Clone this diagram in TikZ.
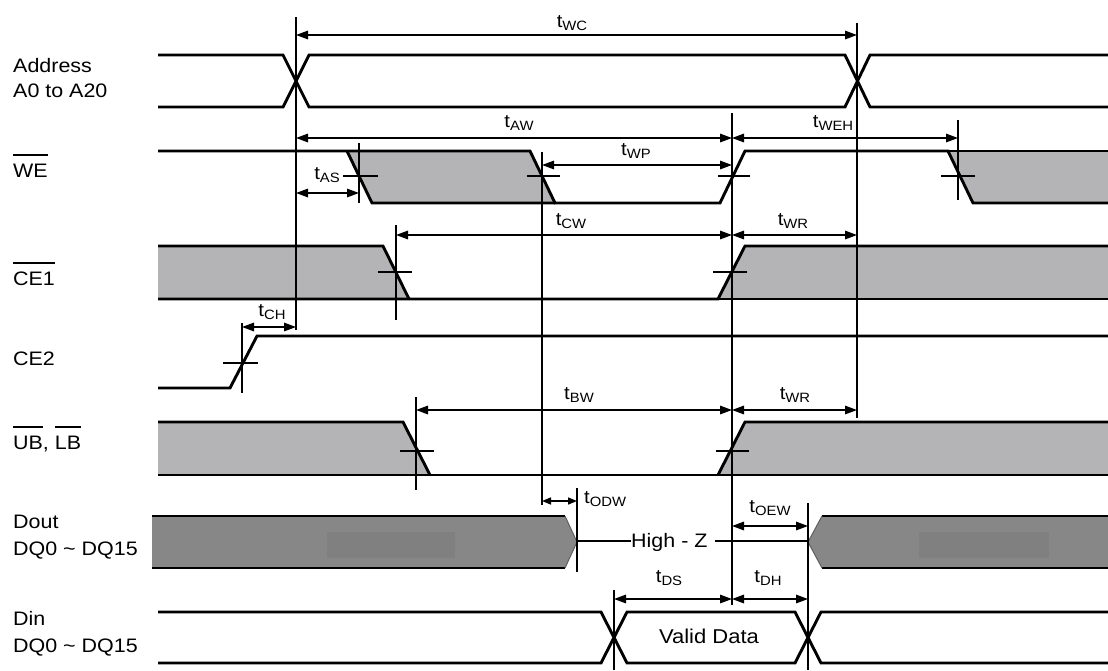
\documentclass[tikz,border=0pt]{standalone}
\usepackage{fontspec}
\setmainfont[FakeStretch=1.1]{Liberation Sans}
\usetikzlibrary{arrows.meta}
\definecolor{lg}{RGB}{180,179,182}
\definecolor{dg}{RGB}{136,135,136}
\definecolor{dgin}{RGB}{128,128,128}
\newcommand\myovl[1]{\setbox0\hbox{#1}\rlap{\rule[21.5pt]{\wd0}{2pt}}\box0}
\newcommand\tsub[1]{t\raisebox{-3.5pt}{\fontsize{13.5}{15}\selectfont #1}}
\begin{document}
\begin{tikzpicture}[x=1pt,y=-1pt,
  sig/.style={line width=2.9pt, line join=miter},
  thin sig/.style={line width=1.6pt},
  refl/.style={line width=1.3pt},
  bigref/.style={line width=2.3pt},
  tick/.style={line width=1.5pt},
  dim/.style={line width=1.5pt,{Triangle[length=12pt,width=8.5pt]}-{Triangle[length=12pt,width=8.5pt]}},
  smalldim/.style={line width=1.5pt,{Triangle[length=9pt,width=7pt]}-{Triangle[length=9pt,width=7pt]}},
  lab/.style={font=\fontsize{19.5}{22}\selectfont, anchor=base west, inner sep=0pt},
  tl/.style={font=\fontsize{18.5}{20}\selectfont, anchor=base, inner sep=0pt}]
\useasboundingbox (0,0) rectangle (1108,670);

% ---------- left labels ----------
\node[lab] (lAddr) at (13,72) {Address};
\node[lab] (lA) at (13,97) {A0 to A20};
\node[lab] (lWE) at (13,177) {\myovl{WE}};
\node[lab] (lCE1) at (13,285) {\myovl{CE1}};
\node[lab] (lCE2) at (13,365) {CE2};
\node[lab] (lUB) at (13,449) {\myovl{UB}, \myovl{LB}};
\node[lab] (lDout) at (13,528) {Dout};
\node[lab] (lDQa) at (13,555) {DQ0 \textasciitilde{} DQ15};
\node[lab] (lDin) at (13,625) {Din};
\node[lab] (lDQb) at (13,652) {DQ0 \textasciitilde{} DQ15};

% ---------- fills ----------
\fill[lg] (347,151) -- (530,151) -- (555,203) -- (372,203) -- cycle;
\fill[lg] (948,151) -- (1108,151) -- (1108,203) -- (973,203) -- cycle;
\fill[lg] (158,246) -- (383,246) -- (409,299) -- (158,299) -- cycle;
\fill[lg] (718,299) -- (745,246) -- (1108,246) -- (1108,299) -- cycle;
\fill[lg] (158,422) -- (403,422) -- (430,475) -- (158,475) -- cycle;
\fill[lg] (718,475) -- (745,422) -- (1108,422) -- (1108,475) -- cycle;
\fill[dg] (152,516) -- (565,516) -- (577,542) -- (565,568) -- (152,568) -- cycle;
\fill[dg] (808,542) -- (822,516) -- (1108,516) -- (1108,568) -- (822,568) -- cycle;
\fill[dgin] (327,532) rectangle (455,558);
\fill[dgin] (919,532) rectangle (1049,558);

% ---------- Address ----------
\draw[sig] (158,55) -- (283,55) -- (309,107) -- (845,107) -- (870,55) -- (1108,55);
\draw[sig] (158,107) -- (283,107) -- (309,55) -- (845,55) -- (870,107) -- (1108,107);

% ---------- WE ----------
\draw[sig] (158,151) -- (530,151) -- (555,203) -- (720,203) -- (745,151) -- (948,151) -- (973,203) -- (1108,203);
\draw[sig] (347,151) -- (372,203) -- (555,203);
\draw[sig] (948,151) -- (1108,151);

% ---------- CE1 ----------
\draw[sig] (158,246) -- (383,246) -- (409,299);
\draw[sig] (158,299) -- (718,299) -- (745,246) -- (1108,246);
\draw[sig] (718,299) -- (1108,299);

% ---------- CE2 ----------
\draw[sig] (158,388) -- (230,388) -- (257,336) -- (1108,336);

% ---------- UB, LB ----------
\draw[sig] (158,422) -- (403,422) -- (430,475);
\draw[sig] (158,475) -- (430,475);
\draw[thin sig] (430,475) -- (718,475);
\draw[sig] (718,475) -- (745,422) -- (1108,422);
\draw[sig] (718,475) -- (1108,475);

% ---------- Dout ----------
\draw[sig] (152,516) -- (565,516);
\draw[sig] (152,568) -- (565,568);
\draw[line width=1pt, dg!70!black] (565,516) -- (577,542) -- (565,568);
\draw[sig] (822,516) -- (1108,516);
\draw[sig] (822,568) -- (1108,568);
\draw[line width=1pt, dg!70!black] (822,516) -- (808,542) -- (822,568);
\node[font=\fontsize{19.5}{22}\selectfont, anchor=base west, inner sep=0pt] (hz) at (631,547) {High - Z};
\draw[line width=2pt] (577,541) -- (hz.west |- 0,541);
\draw[line width=2pt] (715,541) -- (808,541);

% ---------- Din ----------
\draw[sig] (158,612) -- (601,612) -- (627,663) -- (795,663) -- (821,612) -- (1108,612);
\draw[sig] (158,663) -- (601,663) -- (627,612) -- (795,612) -- (821,663) -- (1108,663);
\node[font=\fontsize{20}{22}\selectfont, anchor=base, inner sep=0pt] (vd) at (709,643) {Valid Data};

% ---------- reference lines ----------
\draw[bigref] (296,17) -- (296,330);
\draw[bigref] (857,23) -- (857,418);
\draw[refl] (732,113) -- (732,605);
\draw[refl] (542,152) -- (542,505);
\draw[tick] (614,590) -- (614,670);
\draw[line width=2pt] (808,503) -- (808,670);
\draw[tick] (577,488) -- (577,572);
\draw[tick] (958,120) -- (958,200);
\draw[tick] (359,143) -- (359,203);
\draw[tick] (396,225) -- (396,320);
\draw[tick] (416,397) -- (416,490);
\draw[tick] (242,323) -- (242,393);

% horizontal ticks
\draw[tick] (343,176) -- (378,176);
\draw[tick] (527,176) -- (560,176);
\draw[tick] (718,176) -- (750,176);
\draw[tick] (941,176) -- (975,176);
\draw[tick] (378,272) -- (412,272);
\draw[tick] (713,272) -- (747,272);
\draw[tick] (223,363) -- (258,363);
\draw[tick] (400,451) -- (434,451);
\draw[tick] (716,451) -- (749,451);

% ---------- dimension arrows ----------
\draw[dim] (296,35) -- (857,35);
\draw[dim] (296,138) -- (732,138);
\draw[dim] (732,138) -- (958,138);
\draw[dim] (542,165) -- (732,165);
\draw[dim] (296,193) -- (359,193);
\draw[dim] (396,235) -- (732,235);
\draw[dim] (732,235) -- (857,235);
\draw[dim] (242,327) -- (296,327);
\draw[dim] (416,410) -- (732,410);
\draw[dim] (732,410) -- (857,410);
\draw[smalldim] (542,501) -- (577,501);
\draw[dim] (732,526) -- (808,526);
\draw[dim] (614,599) -- (732,599);
\draw[dim] (732,599) -- (808,599);

% ---------- timing labels ----------
\node[tl] (tWC) at (572,27) {\tsub{WC}};
\node[tl] (tAW) at (519,127) {\tsub{AW}};
\node[tl] (tWEH) at (833,127) {\tsub{WEH}};
\node[tl] (tWP) at (636,155) {\tsub{WP}};
\node[tl, fill=white, inner sep=0.5pt] (tAS) at (327,179) {\tsub{AS}};
\node[tl] (tCW) at (571,225) {\tsub{CW}};
\node[tl] (tWRa) at (793,225) {\tsub{WR}};
\node[tl] (tCH) at (272,316) {\tsub{CH}};
\node[tl] (tBW) at (579,399) {\tsub{BW}};
\node[tl] (tWRb) at (795,399) {\tsub{WR}};
\node[tl, anchor=base west] (tODW) at (584,503) {\tsub{ODW}};
\node[tl] (tOEW) at (770,512) {\tsub{OEW}};
\node[tl] (tDS) at (669,582) {\tsub{DS}};
\node[tl] (tDH) at (768,582) {\tsub{DH}};
\end{tikzpicture}
\end{document}
